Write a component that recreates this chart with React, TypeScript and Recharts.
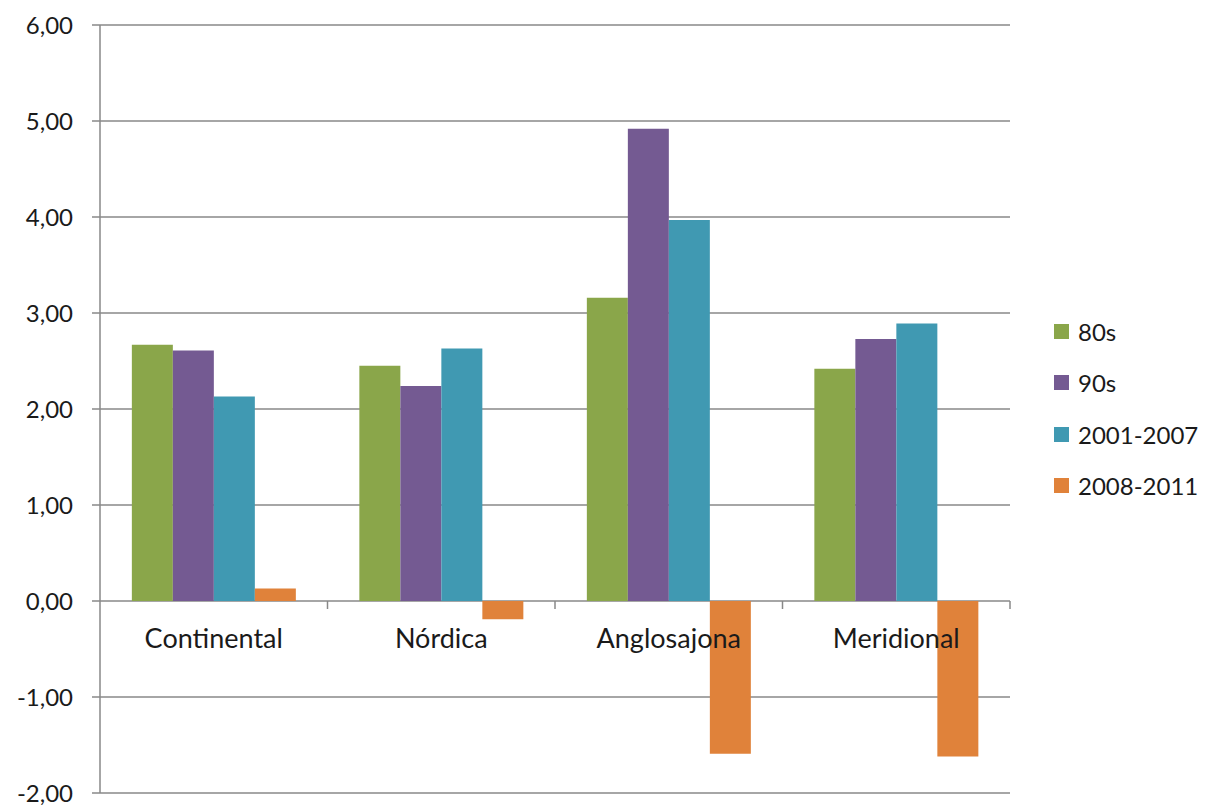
import { BarChart, Bar, XAxis, YAxis, CartesianGrid } from 'recharts';

const regions = ['Continental', 'Nórdica', 'Anglosajona', 'Meridional'];
const series80s = [2.67, 2.45, 3.16, 2.42];
const series90s = [2.61, 2.24, 4.92, 2.73];
const series2001 = [2.13, 2.63, 3.97, 2.89];
const series2008 = [0.13, -0.19, -1.59, -1.62];
const yTicks = [-2, -1, 0, 1, 2, 3, 4, 5, 6];

const SERIES = [
  { key: 'p80', name: '80s', color: '#8aa64a', values: series80s },
  { key: 'p90', name: '90s', color: '#745a92', values: series90s },
  { key: 'p01', name: '2001-2007', color: '#4099b2', values: series2001 },
  { key: 'p08', name: '2008-2011', color: '#e0823a', values: series2008 },
];

const chartData = regions.map((region, i) => {
  const row: Record<string, string | number> = { region };
  SERIES.forEach((s) => {
    row[s.key] = s.values[i];
  });
  return row;
});

const WIDTH = 1206;
const HEIGHT = 805;
const MARGIN = { top: 25, right: 196, bottom: 0, left: 20 };
const Y_AXIS_W = 80;
const X_AXIS_H = 12;
const PLOT_TOP = MARGIN.top;
const PLOT_H = HEIGHT - MARGIN.top - MARGIN.bottom - X_AXIS_H;
const PLOT_W = WIDTH - MARGIN.left - MARGIN.right - Y_AXIS_W;
const Y_MIN = -2;
const Y_MAX = 6;
const FONT = 'Lato, "Open Sans", sans-serif';
const GRID = '#888888';
const TEXT = '#1a1a1a';

// category axis sits on the zero line rather than at the bottom of the plot
const zeroY = PLOT_TOP + ((Y_MAX - 0) / (Y_MAX - Y_MIN)) * PLOT_H;
const band = PLOT_W / regions.length;

const fmt = (v: number) => v.toFixed(2).replace('.', ',');

function CategoryTick(props: any) {
  const { x, index, payload } = props;
  const last = index === regions.length - 1;
  return (
    <g>
      {index > 0 && (
        <line x1={x - band / 2} x2={x - band / 2} y1={zeroY} y2={zeroY + 8} stroke={GRID} strokeWidth={1.5} />
      )}
      {last && (
        <line x1={x + band / 2} x2={x + band / 2} y1={zeroY} y2={zeroY + 8} stroke={GRID} strokeWidth={1.5} />
      )}
      <text x={x} y={zeroY + 47} textAnchor="middle" fontSize={27} fontFamily={FONT} fill={TEXT}>
        {payload.value}
      </text>
    </g>
  );
}

function SeriesLegend() {
  return (
    <div
      style={{
        position: 'absolute',
        left: 1054,
        top: 306,
        fontFamily: FONT,
        fontSize: 24,
        color: TEXT,
        whiteSpace: 'nowrap',
      }}
    >
      {SERIES.map((s) => (
        <div key={s.key} style={{ display: 'flex', alignItems: 'center', height: 51.3 }}>
          <span style={{ width: 15, height: 15, background: s.color, marginRight: 9, flexShrink: 0 }} />
          <span>{s.name}</span>
        </div>
      ))}
    </div>
  );
}

export default function App() {
  return (
    <div style={{ position: 'absolute', left: 0, top: 0, width: WIDTH, height: HEIGHT, background: '#fff' }}>
      <BarChart
        width={WIDTH}
        height={HEIGHT}
        data={chartData}
        margin={MARGIN}
        barCategoryGap="14%"
        barGap={0}
      >
        <CartesianGrid vertical={false} stroke={GRID} strokeWidth={1.5} />
        <XAxis
          dataKey="region"
          height={X_AXIS_H}
          axisLine={false}
          tickLine={false}
          interval={0}
          tick={<CategoryTick />}
        />
        <YAxis
          width={Y_AXIS_W}
          domain={[Y_MIN, Y_MAX]}
          ticks={yTicks}
          interval={0}
          tickFormatter={fmt}
          axisLine={{ stroke: GRID, strokeWidth: 1.5 }}
          tickLine={{ stroke: GRID, strokeWidth: 1.5 }}
          tickSize={8}
          tickMargin={19}
          tick={{ fontSize: 24, fontFamily: FONT, fill: TEXT }}
        />
        {SERIES.map((s) => (
          <Bar key={s.key} dataKey={s.key} name={s.name} fill={s.color} isAnimationActive={false} />
        ))}
      </BarChart>
      <SeriesLegend />
    </div>
  );
}
